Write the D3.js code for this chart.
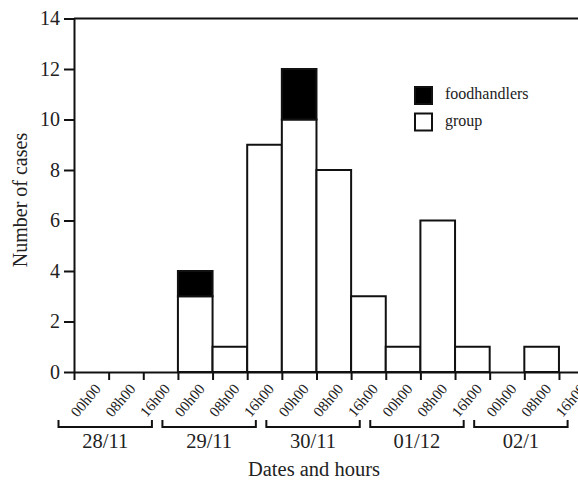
<!DOCTYPE html>
<html><head><meta charset="utf-8">
<script src="https://cdn.jsdelivr.net/npm/d3@7"></script>
<style>body{margin:0;background:#fff}svg{display:block}text{font-family:"Liberation Serif","Times New Roman",serif;fill:#222}</style>
</head><body>
<script>
const hours = ["00h00","08h00","16h00"];
const dates = ["28/11","29/11","30/11","01/12","02/1"];
const group = [0,0,0,3,1,9,10,8,3,1,6,1,0,1,0];
const foodhandlers = [0,0,0,1,0,0,2,0,0,0,0,0,0,0,0];
const yTicks = [0,2,4,6,8,10,12,14];
const legendItems = ["foodhandlers","group"];

const W = 578, H = 481;
const svg = d3.select("body").append("svg").attr("width", W).attr("height", H);
const nb = group.length;
const x = d3.scaleLinear().domain([0, nb]).range([74, 74 + 34.64 * nb]);
const y = d3.scaleLinear().domain([0, 14]).range([372, 18.5]);

// frame top/right
svg.append("path").attr("d", `M${x(0)},${y(14)}H${x(nb)}V${y(0)}`)
  .attr("fill","none").attr("stroke","#111").attr("stroke-width",2);

// bars
const data = group.map((g,i)=>({i, g, f: foodhandlers[i]}));
svg.append("g").selectAll("rect").data(data.filter(d=>d.g>0)).join("rect")
  .attr("x", d=>x(d.i)).attr("width", d=>x(d.i+1)-x(d.i))
  .attr("y", d=>y(d.g)).attr("height", d=>y(0)-y(d.g))
  .attr("fill","#fff").attr("stroke","#111").attr("stroke-width",2);
svg.append("g").selectAll("rect").data(data.filter(d=>d.f>0)).join("rect")
  .attr("x", d=>x(d.i)).attr("width", d=>x(d.i+1)-x(d.i))
  .attr("y", d=>y(d.g+d.f)).attr("height", d=>y(d.g)-y(d.g+d.f))
  .attr("fill","#000").attr("stroke","#111").attr("stroke-width",2);

// y axis
const ya = svg.append("g").attr("transform",`translate(${x(0)},0)`)
  .call(d3.axisLeft(y).tickValues(yTicks).tickSize(10).tickPadding(4).tickSizeOuter(0));
ya.attr("font-family", null).attr("font-size", null);
ya.selectAll("path,line").attr("stroke","#111").attr("stroke-width",2);
ya.selectAll("text").style("font-size","20px").attr("fill","#222");

// x axis
const xa = svg.append("g").attr("transform",`translate(0,${y(0)})`)
  .call(d3.axisBottom(x).tickValues(d3.range(nb+1)).tickSize(8).tickSizeOuter(0).tickFormat(""));
xa.selectAll("path,line").attr("stroke","#111").attr("stroke-width",2);

// hour labels (at right edge of each bin)
svg.append("g").selectAll("text").data(d3.range(nb)).join("text")
  .attr("transform", i=>`translate(${x(i+1)-11},${y(0)+14}) rotate(-50)`)
  .attr("text-anchor","end").attr("dy","0.35em")
  .style("font-size","15px").text(i=>hours[i%3]);

// date brackets
const br = svg.append("g");
dates.forEach((d,k)=>{
  const x0 = x(3*k) - 15.5, x1 = x(3*k+3) - 26, yb = 427;
  br.append("path").attr("d",`M${x0},${yb-7}V${yb}H${x1}V${yb-7}`)
    .attr("fill","none").attr("stroke","#111").attr("stroke-width",2);
  br.append("text").attr("x",(x0+x1)/2).attr("y",448).attr("text-anchor","middle")
    .style("font-size","20.5px").text(d);
});

// axis titles
svg.append("text").attr("x",314).attr("y",476).attr("text-anchor","middle")
  .style("font-size","20.5px").text("Dates and hours");
svg.append("text").attr("transform",`translate(26.5,200) rotate(-90)`)
  .attr("text-anchor","middle").style("font-size","20px").text("Number of cases");

// legend
const lg = svg.append("g");
legendItems.forEach((t,k)=>{
  const ly = 87 + k*26.5;
  lg.append("rect").attr("x",415).attr("y",ly).attr("width",17).attr("height",17)
    .attr("fill", k===0 ? "#000" : "#fff").attr("stroke","#111").attr("stroke-width",2);
  lg.append("text").attr("x",445).attr("y",ly+12).style("font-size","16px").text(t);
});
</script>
</body></html>
